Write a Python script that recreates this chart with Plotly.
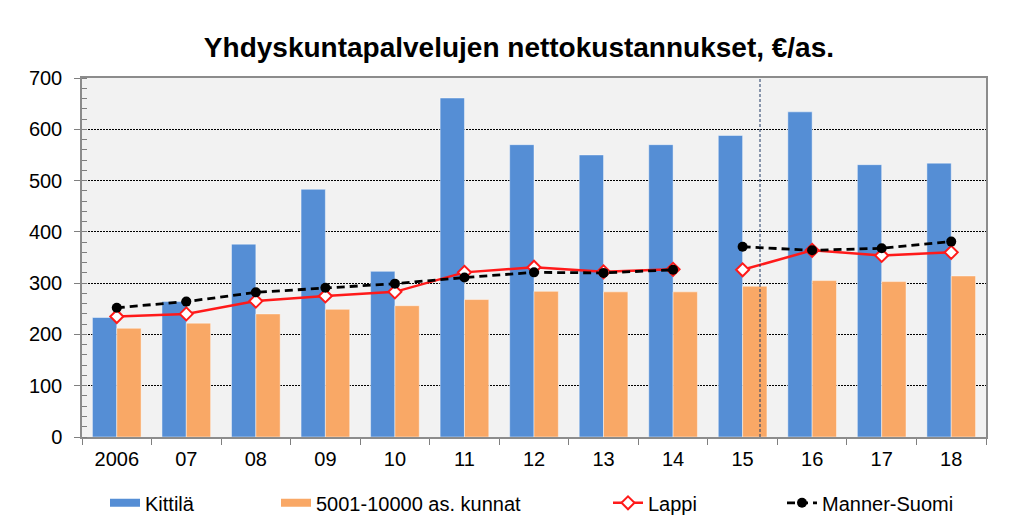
import plotly.graph_objects as go

years = ["2006", "07", "08", "09", "10", "11", "12", "13", "14", "15", "16", "17", "18"]
kittila = [233, 264, 376, 483, 323, 661, 570, 550, 570, 588, 634, 531, 534]
kunnat = [212, 222, 240, 249, 256, 268, 284, 283, 283, 294, 305, 303, 314]
lappi = [235, 240, 265, 275, 283, 321, 331, 322, 327, 326, 364, 354, 360]
manner = [252, 264, 282, 291, 299, 311, 321, 320, 326, 371, 364, 368, 381]
split = 9  # series break between 14 and 15

BLUE = "#558ED5"
ORANGE = "#F9A866"
RED = "#FF1A1A"
FONT = "Liberation Sans, Arial, sans-serif"

fig = go.Figure()

fig.add_trace(go.Bar(x=years, y=kittila, name="Kittilä", marker=dict(color=BLUE, line=dict(color="rgba(255,255,255,0.45)", width=1)), showlegend=False))
fig.add_trace(go.Bar(x=years, y=kunnat, name="5001-10000 as. kunnat", marker=dict(color=ORANGE, line=dict(color="rgba(255,255,255,0.45)", width=1)), showlegend=False))

lappi_style = dict(mode="lines+markers", line=dict(color=RED, width=2.5),
                   marker=dict(symbol="diamond", size=10, color="white", line=dict(color=RED, width=2)))
manner_style = dict(mode="lines+markers", line=dict(color="black", width=2.8, dash="8px,5px"),
                    marker=dict(symbol="circle", size=10, color="black"))

fig.add_trace(go.Scatter(x=years[:split], y=lappi[:split], name="Lappi", legend="legend3", legendgroup="lappi", **lappi_style))
fig.add_trace(go.Scatter(x=years[split:], y=lappi[split:], name="Lappi", legendgroup="lappi", showlegend=False, **lappi_style))
fig.add_trace(go.Scatter(x=years[:split], y=manner[:split], name="Manner-Suomi", legend="legend4", legendgroup="manner", **manner_style))
fig.add_trace(go.Scatter(x=years[split:], y=manner[split:], name="Manner-Suomi", legendgroup="manner", showlegend=False, **manner_style))

# legend-only entries with wide rectangle symbols for bars
fig.add_trace(go.Scatter(x=[None], y=[None], mode="lines", name="Kittilä", legend="legend", line=dict(color=BLUE, width=8)))
fig.add_trace(go.Scatter(x=[None], y=[None], mode="lines", name="5001-10000 as. kunnat", legend="legend2", line=dict(color=ORANGE, width=8)))

fig.add_shape(type="line", xref="x", yref="paper", x0=9.25, x1=9.25, y0=0, y1=1,
              line=dict(color="#1F3864", width=1, dash="3px,2px"))

def leg(screen_px):
    return dict(x=(screen_px - 82) / 904, y=-0.18, xanchor="left", yanchor="middle", orientation="h",
                font=dict(family=FONT, size=20, color="black"), bgcolor="rgba(0,0,0,0)")

fig.update_layout(
    width=1025, height=525,
    margin=dict(l=74, r=47, t=70, b=95),
    paper_bgcolor="white", plot_bgcolor="#F2F2F2",
    font=dict(family=FONT, size=20, color="black"),
    title=dict(text="<b>Yhdyskuntapalvelujen nettokustannukset, €/as.</b>", x=0.4985, xanchor="center",
               y=0.926, yanchor="middle", font=dict(family=FONT, size=28, color="black")),
    barmode="group", bargap=0.3, bargroupgap=0,
    legend=leg(105), legend2=leg(276), legend3=leg(608), legend4=leg(782),
    xaxis=dict(type="category", categoryorder="array", categoryarray=years, range=[-0.5, len(years) - 0.5],
               tickson="boundaries", ticks="outside", ticklen=6, tickcolor="#7F7F7F", showline=True,
               linecolor="#8C8C8C", linewidth=2, mirror=True, showgrid=False, ticklabelstandoff=3),
    yaxis=dict(range=[0, 700], dtick=100, ticks="outside", ticklen=6, tickcolor="#7F7F7F",
               showline=True, linecolor="#8C8C8C", linewidth=1.5, mirror=True,
               showgrid=True, gridcolor="black", griddash="2px,1px", gridwidth=1, zeroline=False,
               ticklabelstandoff=8,
               minor=dict(dtick=20, ticks="inside", ticklen=5, tickcolor="#7F7F7F", showgrid=False)),
)

fig.write_html("out.html")
